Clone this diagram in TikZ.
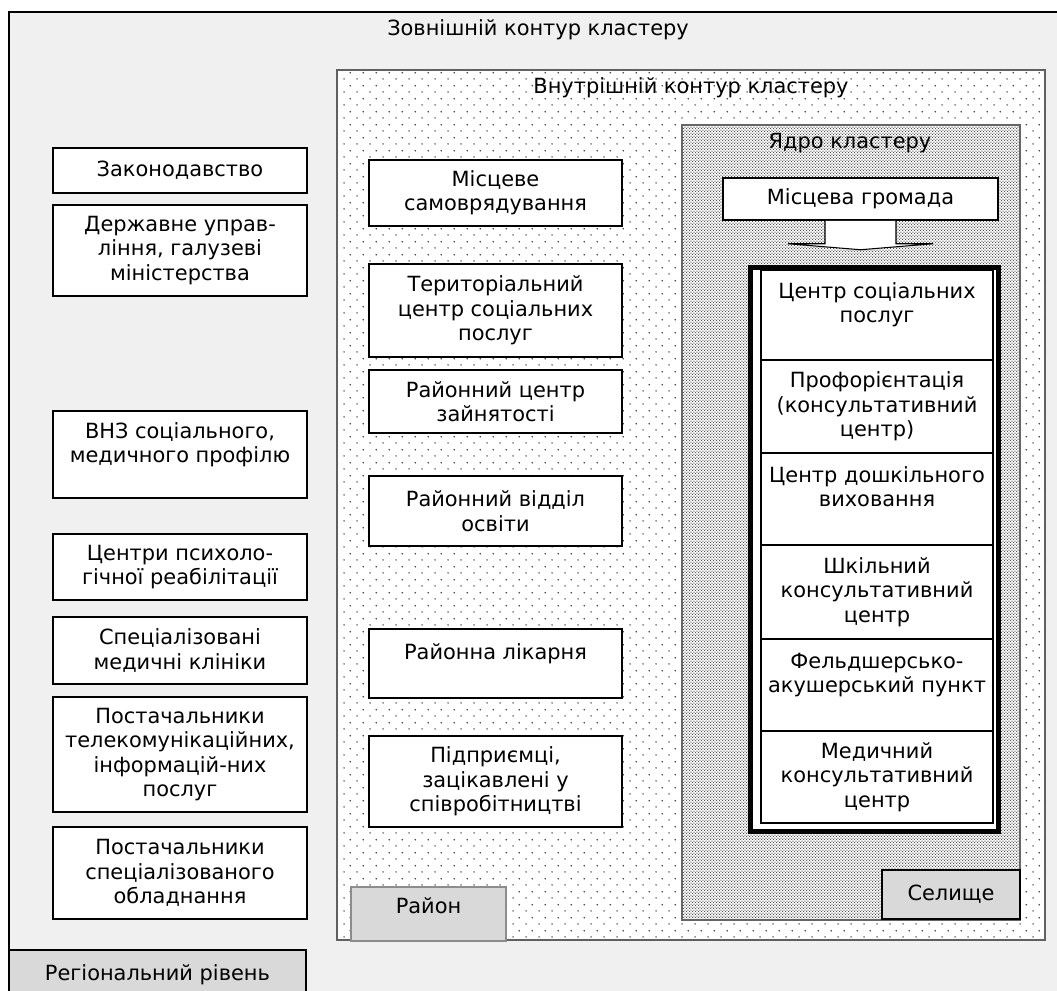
\documentclass[tikz,border=0pt]{standalone}
\usepackage{fontspec}
\setmainfont{DejaVu Sans}
\usetikzlibrary{positioning,calc,patterns.meta}
\definecolor{RegBG}{RGB}{240,240,240}
\definecolor{LevelGray}{RGB}{217,217,217}
\definecolor{ContourGray}{RGB}{96,96,96}

\tikzdeclarepattern{
  name=sparsedots, type=colored,
  bottom left={(0pt,0pt)}, top right={(7.2pt,7.2pt)},
  tile size={(7.2pt,7.2pt)},
  code={\fill[black!75] (1.8pt,1.8pt) circle (0.45pt);
        \fill[black!75] (5.4pt,5.4pt) circle (0.45pt);}
}
\tikzdeclarepattern{
  name=densedots, type=colored,
  bottom left={(0pt,0pt)}, top right={(1.8pt,1.8pt)},
  tile size={(1.8pt,1.8pt)},
  code={\fill[black!75] (0.45pt,0.45pt) circle (0.42pt);
        \fill[black!75] (1.35pt,1.35pt) circle (0.42pt);}
}

\begin{document}
\begin{tikzpicture}[
    font=\fontsize{11.9}{13.9}\selectfont,
    % стилі блоків
    boxnode/.style={draw=black, line width=0.85pt, fill=white, align=center, inner sep=1pt},
    lbox/.style={boxnode, minimum width=5.08cm},
    mbox/.style={boxnode, minimum width=5.06cm},
    cellnode/.style={draw=black, line width=0.6pt, fill=white, align=center, inner sep=1pt, minimum width=4.64cm},
    levelnode/.style={line width=0.85pt, fill=LevelGray, align=center},
    % стиль стрілки
    arrowedge/.style={draw=black, line width=0.6pt, fill=white},
    % стиль підписів контурів
    tlabel/.style={inner sep=1pt}
]
    \useasboundingbox (0,0) rectangle (21.14,-19.8);

    % --- ЗОВНІШНІЙ КОНТУР ---
    \fill[RegBG] (0.18,-0.24) rectangle (21.4,-20.1);
    \draw[line width=0.85pt] (0.18,-20.1) -- (0.18,-0.24) -- (21.4,-0.24);
    \node[tlabel] (outerlbl) at (10.76,-0.6) {Зовнішній контур кластеру};

    % --- ВНУТРІШНІЙ КОНТУР ---
    \fill[white] (6.74,-1.4) rectangle (20.9,-18.8);
    \fill[pattern=sparsedots] (6.74,-1.4) rectangle (20.9,-18.8);
    \draw[ContourGray, line width=0.7pt] (6.74,-1.4) rectangle (20.9,-18.8);
    \node[tlabel] (innerlbl) at (13.82,-1.76) {Внутрішній контур кластеру};

    % --- ЯДРО ---
    \fill[white] (13.64,-2.5) rectangle (20.4,-18.4);
    \fill[pattern=densedots] (13.64,-2.5) rectangle (20.4,-18.4);
    \draw[black!60, line width=0.6pt] (13.64,-2.5) rectangle (20.4,-18.4);
    \node[tlabel] (corelbl) at (17.0,-2.86) {Ядро кластеру};

    % Лівий стовпчик (регіональний рівень)
    \node[lbox, minimum height=0.9cm]  (zak)   at (3.6,-3.41) {Законодавство};
    \node[lbox, minimum height=1.82cm] (derzh) at (3.6,-5.01) {Державне управ-\\ління, галузеві\\міністерства};
    \node[lbox, minimum height=1.74cm] (vnz)   at (3.6,-9.09) {ВНЗ соціального,\\медичного профілю\\~};
    \node[lbox, minimum height=1.32cm] (psy)   at (3.6,-11.34) {Центри психоло-\\гічної реабілітації};
    \node[lbox, minimum height=1.34cm] (klin)  at (3.6,-13.01) {Спеціалізовані\\медичні клініки};
    \node[lbox, minimum height=2.3cm]  (tele)  at (3.6,-15.09) {Постачальники\\телекомунікаційних,\\інформацій-них\\послуг};
    \node[lbox, minimum height=1.84cm] (obl)   at (3.6,-17.46) {Постачальники\\спеціалізованого\\обладнання};

    % Середній стовпчик (район)
    \node[mbox, minimum height=1.32cm] (msc)   at (9.91,-3.86) {Місцеве\\самоврядування};
    \node[mbox, minimum height=1.86cm] (ter)   at (9.91,-6.21) {Територіальний\\центр соціальних\\послуг};
    \node[mbox, minimum height=1.26cm] (zain)  at (9.91,-8.03) {Районний центр\\зайнятості};
    \node[mbox, minimum height=1.4cm]  (osv)   at (9.91,-10.22) {Районний відділ\\освіти};
    \node[mbox, minimum height=1.38cm] (likar) at (9.91,-13.27) {Районна лікарня\\~};
    \node[mbox, minimum height=1.82cm] (pidpr) at (9.91,-15.63) {Підприємці,\\зацікавлені у\\співробітництві};

    % Громада і стрілка
    \node[boxnode, minimum width=5.5cm, minimum height=0.84cm] (grom) at (17.21,-3.98) {Місцева громада};
    \draw[arrowedge] ($(grom.south)+(-0.71,0)$) -- ++(0,-0.46) -- ++(-0.74,0)
        -- ($(grom.south)+(0,-0.58)$) -- ($(grom.south)+(1.45,-0.46)$)
        -- ++(-0.74,0) -- ($(grom.south)+(0.71,0)$);

    % Рамка установ селища
    \node[draw=black, line width=2.85pt, fill=white, minimum width=4.96cm, minimum height=11.28cm] (kframe) at (17.48,-10.98) {};
    \node[cellnode, minimum height=1.8cm]  (c1) at (17.54,-6.3)   {Центр соціальних\\послуг\\~};
    \node[cellnode, minimum height=1.86cm] (c2) at (17.54,-8.13)  {Профорієнтація\\(консультативний\\центр)};
    \node[cellnode, minimum height=1.84cm] (c3) at (17.54,-9.98)  {Центр дошкільного\\виховання\\~};
    \node[cellnode, minimum height=1.88cm] (c4) at (17.54,-11.84) {Шкільний\\консультативний\\центр};
    \node[cellnode, minimum height=1.84cm] (c5) at (17.54,-13.7)  {Фельдшерсько-\\акушерський пункт\\~};
    \node[cellnode, minimum height=1.84cm] (c6) at (17.54,-15.54) {Медичний\\консультативний\\центр};
    \draw[line width=0.6pt] ($(c1.north east)+(0.07,0)$) -- ($(c6.south east)+(0.07,0)$);

    % --- РІВНІ ---
    \node[levelnode, draw=black, minimum width=2.76cm, minimum height=0.98cm] (sel) at (19.02,-17.89) {Селище};
    \node[levelnode, draw=black!45, minimum width=3.1cm, minimum height=1.08cm, text depth=0.35cm] (rai) at (8.57,-18.28) {Район};
    \node[levelnode, draw=black, minimum width=5.94cm, minimum height=1.0cm] (reg) at (3.15,-19.5) {Регіональний рівень};

\end{tikzpicture}
\end{document}
